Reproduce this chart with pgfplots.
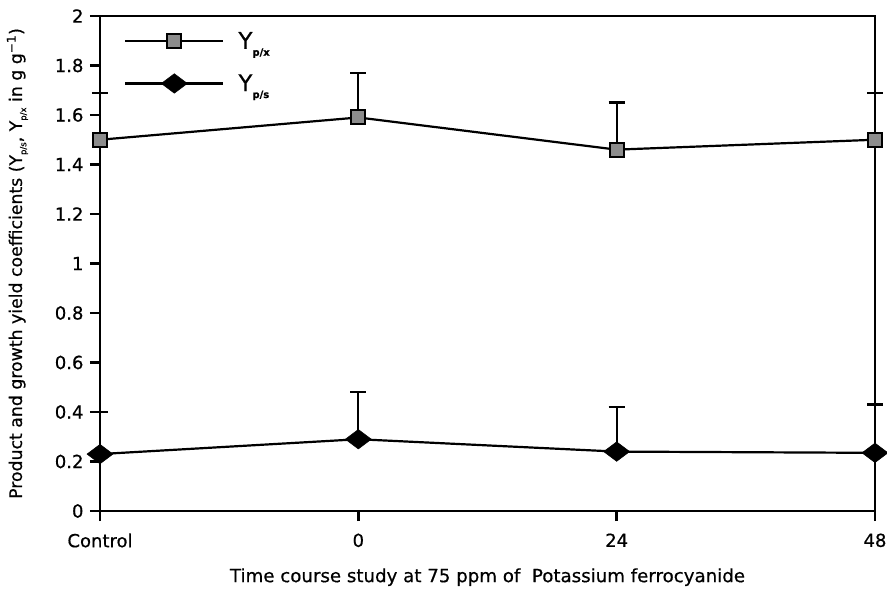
\documentclass[border=0pt]{standalone}
\usepackage{pgfplots}
\pgfplotsset{compat=1.18}
\usepackage{fontspec}
\setmainfont{DejaVu Sans}[FakeBold=0.6]
\newcommand{\sub}[1]{\raisebox{-0.55ex}{\fontsize{10}{11}\selectfont\bfseries #1}}
\newcommand{\subsm}[1]{\raisebox{-0.45ex}{\fontsize{8.5}{9}\selectfont #1}}
\pgfplotstableread{
x y e
0 1.50 0.19
1 1.59 0.18
2 1.46 0.19
3 1.50 0.19
}\px
\pgfplotstableread{
x y e
0 0.23 0.17
1 0.29 0.19
2 0.24 0.18
3 0.235 0.195
}\pa
\begin{document}
\begin{tikzpicture}
\begin{axis}[
  name=ax,
  scale only axis, width=775pt, height=495pt,
  xmin=0, xmax=3, ymin=0, ymax=2,
  xtick={0,1,2,3}, xticklabels={Control,0,24,48},
  ytick={0,0.2,...,2.01},
  /pgf/number format/assume math mode=true,
  /pgf/number format/fixed,
  ticklabel style={font=\fontsize{18}{20}\selectfont},
  xticklabel style={yshift=-9pt},
  yticklabel style={xshift=-3pt},
  label style={font=\fontsize{17.3}{20}\selectfont},
  xlabel={\fontsize{18.2}{20}\selectfont Time course study at 75 ppm of\ \ Potassium ferrocyanide},
  ylabel={Product and growth yield coefficients (Y\subsm{p/s}, Y\subsm{p/x} in g g\textsuperscript{−1})},
  xlabel style={yshift=-14pt},
  ylabel style={yshift=20pt},
  axis line style={line width=2.6pt},
  tick style={line width=2.4pt, black},
  tick align=outside, major tick length=10pt,
  xtick pos=bottom, ytick pos=left,
  clip=false,
  legend style={at={(0.031,0.972)}, anchor=north west, draw=none, fill=none,
    font=\fontsize{23}{26}\selectfont, row sep=20pt, inner sep=0pt},
  legend cell align=left,
  legend image code/.code={\draw[#1, mark repeat=2, mark phase=2] plot coordinates {(0pt,0pt) (49pt,0pt) (98pt,0pt)};},
]
\addplot+[black, line width=2.2pt, mark=square*,
  mark options={fill=gray!90, draw=black, line width=2pt, mark size=7pt, solid},
  error bars/.cd, y dir=plus, y explicit,
  error bar style={line width=2.2pt, black},
  error mark options={rotate=90, mark size=8pt, line width=2.4pt, black}]
  table[x=x, y=y, y error=e] {\px};
\addlegendentry{\hspace{12pt}Y\sub{p/x}}
\addplot+[black, line width=2.2pt, mark=diamond*,
  mark options={fill=black, draw=black, line width=0.5pt, mark size=13pt, rotate=90, solid},
  error bars/.cd, y dir=plus, y explicit,
  error bar style={line width=2.2pt, black},
  error mark options={rotate=90, mark size=8pt, line width=2.4pt, black}]
  table[x=x, y=y, y error=e] {\pa};
\addlegendentry{\hspace{12pt}Y\sub{p/s}}
\end{axis}
\pgfresetboundingbox
\path ([xshift=-100pt,yshift=-79pt]ax.south west) rectangle ([xshift=12pt,yshift=16pt]ax.north east);
\end{tikzpicture}
\end{document}
